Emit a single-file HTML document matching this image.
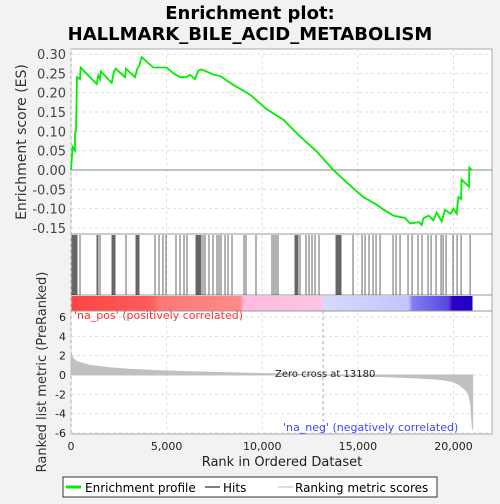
<!DOCTYPE html>
<html><head><meta charset="utf-8"><style>
body{margin:0;background:#f2f2f2;width:500px;height:500px;overflow:hidden;font-family:"DejaVu Sans","Liberation Sans",sans-serif}
</style></head><body>
<svg width="500" height="500" xmlns="http://www.w3.org/2000/svg">
<defs>
<linearGradient id="cb" x1="0" x2="1">
<stop offset="0" stop-color="#ff4444"/><stop offset="0.2" stop-color="#ff5c5c"/><stop offset="0.22" stop-color="#ff7777"/><stop offset="0.42" stop-color="#ff8a8a"/><stop offset="0.43" stop-color="#ffbbe0"/><stop offset="0.62" stop-color="#ffc4e4"/><stop offset="0.63" stop-color="#d8d8ff"/><stop offset="0.84" stop-color="#c4c4ff"/><stop offset="0.85" stop-color="#8080f0"/><stop offset="0.94" stop-color="#5a44e0"/><stop offset="0.95" stop-color="#2a00cc"/><stop offset="1" stop-color="#2200bb"/>
</linearGradient>
</defs>
<text x="250" y="19" text-anchor="middle" font-size="18" font-weight="bold">Enrichment plot:</text>
<text x="250" y="40" text-anchor="middle" font-size="18" font-weight="bold">HALLMARK_BILE_ACID_METABOLISM</text>
<rect x="71" y="49" width="421" height="385" fill="#fff" stroke="#aaa"/>
<g id="grid"></g>
<g id="es"></g>
<line x1="71" x2="492" y1="234" y2="234" stroke="#999"/>
<line x1="71" x2="492" y1="295" y2="295" stroke="#999"/>
<rect x="71.5" y="296" width="401" height="15" fill="url(#cb)"/>
<line x1="71" x2="492" y1="311" y2="311" stroke="#999"/>
<g id="hits"></g>
<g id="metric"></g>
<text x="74" y="319" font-size="11" fill="#ff3333">'na_pos' (positively correlated)</text>
<text x="283" y="431" font-size="11" fill="#4444ff">'na_neg' (negatively correlated)</text>
<text x="275" y="377" font-size="10" fill="#222">Zero cross at 13180</text>
<text transform="translate(26,142) rotate(-90)" text-anchor="middle" font-size="14" fill="#333">Enrichment score (ES)</text>
<text transform="translate(46,372) rotate(-90)" text-anchor="middle" font-size="13" fill="#333">Ranked list metric (PreRanked)</text>
<text x="282" y="466" text-anchor="middle" font-size="13" fill="#222">Rank in Ordered Dataset</text>
<g>
<rect x="63" y="477" width="374" height="20" fill="#fff" stroke="#333"/>
<line x1="66" x2="81" y1="487" y2="487" stroke="#00ee00" stroke-width="3"/>
<text x="85" y="492" font-size="12">Enrichment profile</text>
<line x1="205" x2="220" y1="487" y2="487" stroke="#000"/>
<text x="223" y="492" font-size="12">Hits</text>
<line x1="278" x2="293" y1="487" y2="487" stroke="#bbb"/>
<text x="295" y="492" font-size="12">Ranking metric scores</text>
</g>
</svg>
<script>
const hitRanks=[52,105,157,209,261,314,471,1360,1412,1517,2144,2196,2248,2301,2876,3399,3451,3503,3556,4392,4601,4810,4968,5490,5700,5909,6066,6536,6589,6641,6693,6745,6798,6902,7007,7216,7425,7634,7739,7843,8053,8209,8419,9046,9150,9673,10510,10614,10719,10824,11713,11765,11817,11870,11974,12288,12445,12602,12759,12968,13857,13909,13962,14014,14066,14118,14746,15217,15374,15583,15792,15949,16158,16838,16995,17204,17622,17832,18145,18354,18668,18825,19087,19348,19453,19610,19976,20186,20395,20866];
const esRanks=[0,86,209,209,261,313,470,505,1342,1429,1516,1568,2126,2248,2335,2823,2875,3346,3468,3573,3695,4305,5002,5350,5700,6000,6222,6484,6658,6832,7442,7800,8488,9360,10231,11103,11974,12845,13717,14589,15285,15984,16330,16853,17464,17726,18200,18336,18423,18700,18946,19120,19382,19556,19850,19992,20166,20253,20392,20427,20810,20829,20950];
const esValues=[0,0.06,0.05,0.095,0.10,0.24,0.235,0.265,0.222,0.245,0.235,0.255,0.225,0.255,0.262,0.24,0.262,0.24,0.262,0.27,0.292,0.265,0.265,0.25,0.24,0.24,0.246,0.235,0.257,0.26,0.247,0.243,0.22,0.195,0.157,0.13,0.087,0.048,0,-0.04,-0.07,-0.09,-0.102,-0.118,-0.124,-0.138,-0.135,-0.142,-0.125,-0.118,-0.13,-0.11,-0.133,-0.103,-0.113,-0.1,-0.113,-0.07,-0.075,-0.025,-0.043,0.006,0];
const metricRanks=[0,100,300,600,1000,2000,3000,4500,6000,8000,10000,12000,13180,15000,16500,18000,19000,19500,20000,20300,20600,20800,20900,20950,21000];
const metricValues=[2.3,1.7,1.4,1.2,1.0,0.75,0.6,0.45,0.35,0.25,0.15,0.08,0,-0.1,-0.18,-0.3,-0.42,-0.5,-0.7,-1.0,-1.5,-2.0,-3.0,-4.5,-5.6];
const esTicks=[0.30,0.25,0.20,0.15,0.10,0.05,0.00,-0.05,-0.10,-0.15];
const metricTicks=[6,4,2,0,-2,-4,-6];
const xTicks=[0,5000,10000,15000,20000];
const NS="http://www.w3.org/2000/svg";
const X=r=>71+r*0.019125, YE=v=>170-v*386.7, YM=v=>375-v*9.67;
function mk(p,t,a){const e=document.createElementNS(NS,t);for(const k in a)e.setAttribute(k,a[k]);p.appendChild(e);return e;}
const g=document.getElementById('grid'),es=document.getElementById('es'),hg=document.getElementById('hits'),mg=document.getElementById('metric'),svg=document.querySelector('svg');
xTicks.forEach(t=>{
 const l=mk(g,'line',{x1:X(t),x2:X(t),y1:49,y2:434,stroke:'#ddd','stroke-dasharray':'3,3'});
 
 
 const tx=mk(svg,'text',{x:X(t),y:450,'text-anchor':'middle','font-size':'11',fill:'#222'});tx.textContent=t.toLocaleString('en-US');
 
 
});
esTicks.forEach(t=>{
 const l=mk(g,'line',{x1:71,x2:492,y1:YE(t),y2:YE(t),stroke:t===0?'#888':'#ddd','stroke-dasharray':t===0?'':'3,3'});
 
 
 const tx=mk(svg,'text',{x:66,y:YE(t)+5,'text-anchor':'end','font-size':'13',fill:'#444'});tx.textContent=t.toFixed(2);
 
 
});
metricTicks.forEach(t=>{
 const l=mk(g,'line',{x1:71,x2:492,y1:YM(t),y2:YM(t),stroke:'#ddd','stroke-dasharray':'3,3'});
 
 
 const tx=mk(svg,'text',{x:66,y:YM(t)+4,'text-anchor':'end','font-size':'11',fill:'#222'});tx.textContent=t;
 
 
});
const zl=mk(g,'line',{x1:X(13180),x2:X(13180),y1:311,y2:434,stroke:'#aaa','stroke-dasharray':'3,3'});


let md='M'+X(0)+','+YM(0);metricRanks.forEach((r,i)=>md+=' L'+X(r)+','+YM(metricValues[i]));md+=' L'+X(21000)+','+YM(0)+'Z';
const mp=mk(mg,'path',{d:md,fill:'#c0c0c0',stroke:'#c0c0c0'});


hitRanks.forEach(r=>{
 const l=mk(hg,'line',{x1:X(r),x2:X(r),y1:235,y2:295,stroke:'#000','stroke-width':'0.6'});
 
 
});
const pts=esRanks.map((r,i)=>X(r)+','+YE(esValues[i])).join(' ');
const pl=mk(es,'polyline',{points:pts,fill:'none',stroke:'#00ee00','stroke-width':'1.8'});


</script>
</body></html>
